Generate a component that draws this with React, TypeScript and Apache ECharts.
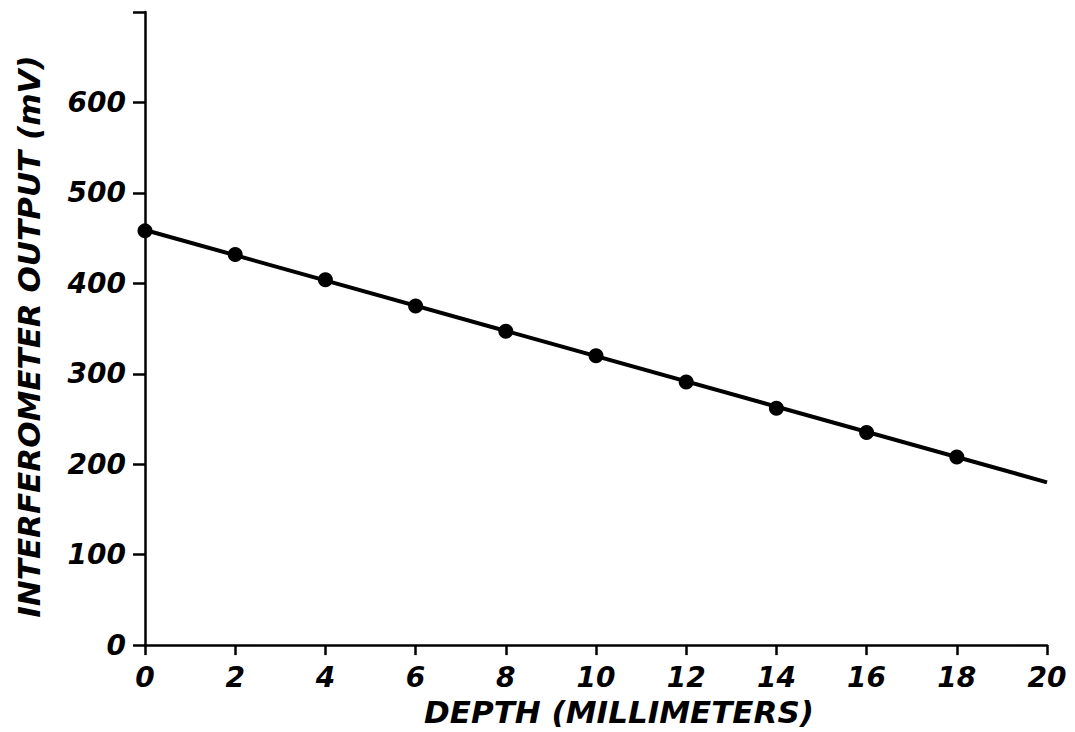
import React, { useEffect, useRef } from "react";
import * as echarts from "echarts";

const depthMm = [0, 2, 4, 6, 8, 10, 12, 14, 16, 18];
const outputMv = [458, 432, 404, 375, 347, 320, 291, 262, 235, 208];
const fitDepth = [0, 20];
const fitOutput = [459, 180];
const xTitle = "DEPTH (MILLIMETERS)";
const yTitle = "INTERFEROMETER OUTPUT (mV)";

const FONT = "'DejaVu Sans', sans-serif";

export default function App() {
  const ref = useRef<HTMLDivElement>(null);
  useEffect(() => {
    document.body.style.margin = "0";
    const chart = echarts.init(ref.current!, null, { renderer: "svg" });
    const labelStyle = {
      color: "#000",
      fontFamily: FONT,
      fontStyle: "italic" as const,
      fontWeight: "bold" as const,
      fontSize: 28,
    };
    chart.setOption({
      animation: false,
      backgroundColor: "#fff",
      grid: { left: 145, right: 28, top: 12, bottom: 84 },
      xAxis: {
        type: "value",
        min: 0,
        max: 20,
        interval: 2,
        name: xTitle,
        nameLocation: "middle",
        nameGap: 49,
        nameTextStyle: { ...labelStyle, fontSize: 31, padding: [0, 0, 0, 46] },
        axisLine: { show: true, lineStyle: { color: "#000", width: 2.5 } },
        axisTick: { show: true, length: 10, lineStyle: { color: "#000", width: 2.5 } },
        axisLabel: { ...labelStyle, margin: 18 },
        splitLine: { show: false },
      },
      yAxis: {
        type: "value",
        min: 0,
        max: 700,
        interval: 100,
        name: yTitle,
        nameLocation: "middle",
        nameGap: 101,
        nameRotate: 90,
        nameTextStyle: { ...labelStyle, fontSize: 31, padding: [0, 16, 0, 0] },
        axisLine: { show: true, lineStyle: { color: "#000", width: 2.5 } },
        axisTick: { show: true, length: 12, lineStyle: { color: "#000", width: 2.5 } },
        axisLabel: {
          ...labelStyle,
          margin: 19,
          formatter: (v: number) => (v === 700 ? "" : String(v)),
        },
        splitLine: { show: false },
      },
      series: [
        {
          type: "line",
          data: fitDepth.map((d, i) => [d, fitOutput[i]]),
          symbol: "none",
          lineStyle: { color: "#000", width: 4 },
          silent: true,
        },
        {
          type: "scatter",
          data: depthMm.map((d, i) => [d, outputMv[i]]),
          symbol: "circle",
          symbolSize: 15,
          itemStyle: { color: "#000", opacity: 1 },
        },
      ],
    });
    return () => chart.dispose();
  }, []);
  return <div ref={ref} style={{ width: 1075, height: 732 }} />;
}
